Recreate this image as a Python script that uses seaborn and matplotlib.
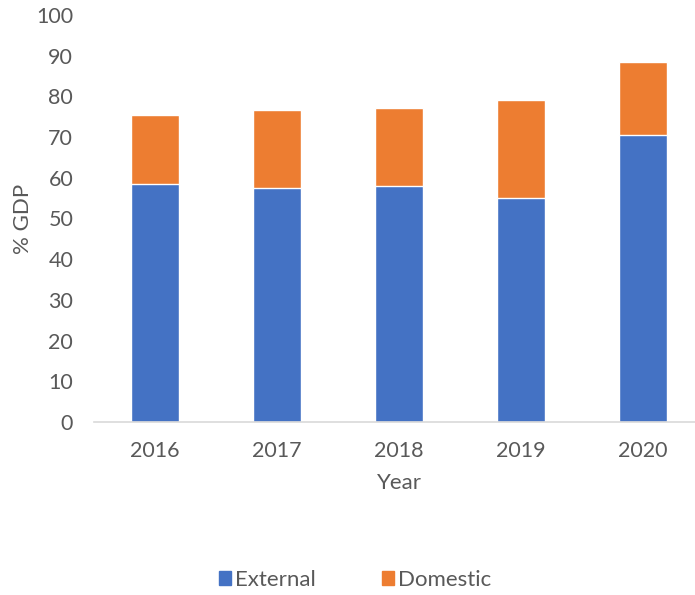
import matplotlib
matplotlib.use("Agg")
import matplotlib.pyplot as plt
import seaborn as sns
import pandas as pd
from matplotlib.patches import Patch

years = ["2016", "2017", "2018", "2019", "2020"]
external = [58.5, 57.4, 57.9, 55.0, 70.4]
domestic = [16.9, 19.3, 19.2, 24.0, 18.0]

sns.set_style("white")
plt.rcParams['font.family'] = ['Lato', 'DejaVu Sans']

blue = "#4472C4"
orange = "#ED7D31"
txt = "#595959"

df = pd.DataFrame({"Year": years, "External": external, "Domestic": domestic})
df["Total"] = df["External"] + df["Domestic"]

fig = plt.figure(figsize=(6.95, 5.95), dpi=100)
ax = fig.add_axes([94/695, 173/595, 610/695, 407/595])

sns.barplot(data=df, x="Year", y="Total", color=orange, width=0.4, ax=ax, saturation=1)
sns.barplot(data=df, x="Year", y="External", color=blue, width=0.4, ax=ax, saturation=1)

ax.set_ylim(0, 100)
ax.set_xlim(-0.5, 4.5)
ax.set_yticks(range(0, 101, 10))
for s in ["top", "right", "left"]:
    ax.spines[s].set_visible(False)
ax.spines["bottom"].set_color("#d9d9d9")
ax.spines["bottom"].set_linewidth(1.2)
ax.tick_params(axis="both", length=0, labelsize=15.5, colors=txt)
ax.tick_params(axis="x", pad=14)
ax.tick_params(axis="y", pad=15)
ax.set_xlabel("Year", fontsize=16, color=txt, labelpad=8)
ax.set_ylabel("% GDP", fontsize=16, color=txt, labelpad=2)

handles = [Patch(color=blue, label="External"), Patch(color=orange, label="Domestic")]
fig.legend(handles=handles, loc="center", bbox_to_anchor=(355/695, 1 - 580/595), ncol=2,
           frameon=False, fontsize=16, labelcolor=txt, handlelength=0.55, handleheight=0.55,
           handletextpad=0.15, columnspacing=3.0)

fig.savefig("out.png", dpi=100)
